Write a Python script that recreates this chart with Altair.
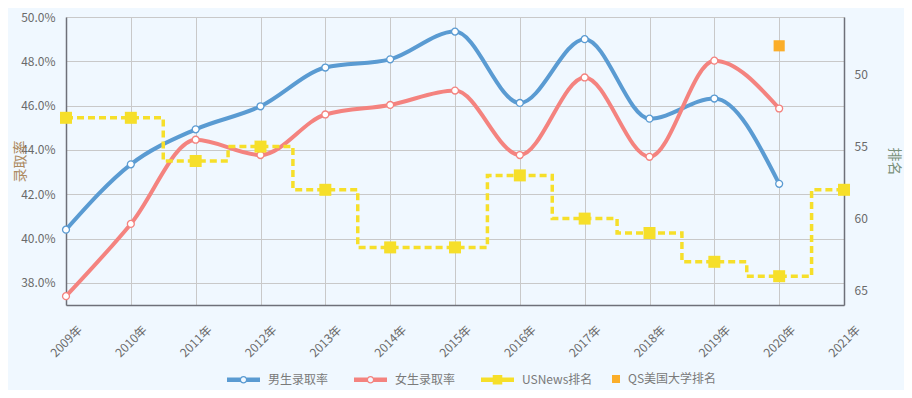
import altair as alt
import pandas as pd

# ---- data ----
rate_years = [2009, 2010, 2011, 2012, 2013, 2014, 2015, 2016, 2017, 2018, 2019, 2020]
male_rate = [40.4, 43.35, 44.93, 45.97, 47.72, 48.09, 49.34, 46.12, 49.0, 45.41, 46.32, 42.47]
female_rate = [37.4, 40.66, 44.46, 43.77, 45.6, 46.03, 46.68, 43.77, 47.27, 43.69, 48.03, 45.87]
rank_years = [2009, 2010, 2011, 2012, 2013, 2014, 2015, 2016, 2017, 2018, 2019, 2020, 2021]
usnews_rank = [53, 53, 56, 55, 58, 62, 62, 57, 60, 61, 63, 64, 58]
qs_years = [2020]
qs_rank = [48]
series_names = ["男生录取率", "女生录取率", "USNews排名"]
qs_name = "QS美国大学排名"
x_ticks = list(range(2009, 2022))
left_ticks = [38, 40, 42, 44, 46, 48, 50]
right_ticks = [50, 55, 60, 65]

BLUE = "#5a9bd2"
PINK = "#f4837f"
YELLOW = "#f6df2a"
ORANGE = "#fbae2a"
FONT = "Noto Sans CJK SC"
LABEL_COLOR = "#6a6a6a"
BG = "#f0f8ff"

PLOT_H = 288

male_df = pd.DataFrame({"year": rate_years, "value": male_rate})
female_df = pd.DataFrame({"year": rate_years, "value": female_rate})
us_df = pd.DataFrame({"year": rank_years, "rank": usnews_rank})
qs_df = pd.DataFrame({"year": qs_years, "rank": qs_rank, "series": [qs_name] * len(qs_years)})
legend_df = pd.DataFrame({"series": series_names})

x_axis = alt.Axis(
    values=x_ticks, labelExpr="datum.value + '年'", labelAngle=-45, labelAlign="center",
    labelBaseline="middle", labelPadding=36, ticks=False, grid=True, gridColor="#c9c9c9",
    gridWidth=1, domainColor="#6e7079", domainWidth=1.5, labelFontSize=12,
    labelColor=LABEL_COLOR, labelFont=FONT, title=None,
)
x_enc = alt.X("year:Q", scale=alt.Scale(domain=[2009, 2021], nice=False, zero=False), axis=x_axis)

left_axis = alt.Axis(
    values=left_ticks, labelExpr="format(datum.value, '.1f') + '%'", ticks=False,
    labelPadding=11, grid=True, gridColor="#c9c9c9", gridWidth=1, domainColor="#6e7079",
    domainWidth=1.5, labelFontSize=12, labelColor=LABEL_COLOR, labelFont=FONT,
    title="录取率", titleFont=FONT, titleFontSize=14, titleFontWeight="normal",
    titleColor="#ad8a5f", titleX=-46, titleY=PLOT_H / 2, titleAngle=-90, titleAlign="center",
    titleBaseline="middle",
)
left_scale = alt.Scale(domain=[37, 50], nice=False, zero=False)

right_axis = alt.Axis(
    values=right_ticks, ticks=False, labelPadding=10, grid=False, domainColor="#6e7079",
    domainWidth=1.5, labelFontSize=12, labelColor=LABEL_COLOR, labelFont=FONT, orient="right",
    title="排名", titleFont=FONT, titleFontSize=14, titleFontWeight="normal",
    titleColor="#7a907a", titleX=49, titleY=PLOT_H / 2, titleAngle=90, titleAlign="center",
    titleBaseline="middle",
)
right_scale = alt.Scale(domain=[46, 66], reverse=True, nice=False, zero=False)


def rate_layers(df, color):
    y = alt.Y("value:Q", scale=left_scale, axis=left_axis)
    line = alt.Chart(df).mark_line(color=color, strokeWidth=4, interpolate="monotone").encode(x=x_enc, y=y)
    pts = alt.Chart(df).mark_point(
        filled=True, fill="white", stroke=color, strokeWidth=1.3, size=48, opacity=1
    ).encode(x=x_enc, y=y)
    return [line, pts]


left_group = alt.layer(*rate_layers(male_df, BLUE), *rate_layers(female_df, PINK))

y_rank = alt.Y("rank:Q", scale=right_scale, axis=right_axis)
us_line = alt.Chart(us_df).mark_line(
    color=YELLOW, strokeWidth=3.5, strokeDash=[7, 4], interpolate="step"
).encode(x=x_enc, y=y_rank)
us_pts = alt.Chart(us_df).mark_square(color=YELLOW, size=144, opacity=1).encode(x=x_enc, y=y_rank)
qs_pts = alt.Chart(qs_df).mark_square(size=124, opacity=1).encode(
    x=x_enc, y=y_rank,
    fill=alt.Fill(
        "series:N", scale=alt.Scale(domain=[qs_name], range=[ORANGE]),
        legend=alt.Legend(
            title=None, orient="none", legendX=544, legendY=PLOT_H + 68, direction="horizontal",
            symbolType="square", symbolSize=64, symbolStrokeWidth=0, labelOffset=6,
            labelFontSize=12, labelColor="#7a7a7a", labelFont=FONT, padding=0,
        ),
    ),
)
right_group = alt.layer(us_line, us_pts, qs_pts)

line_circle = (
    "M-1,-0.14H-0.2V0.14H-1Z M0.2,-0.14H1V0.14H0.2Z "
    "M0.23,0A0.23,0.23,0,1,1,-0.23,0A0.23,0.23,0,1,1,0.23,0Z "
    "M0.15,0A0.15,0.15,0,1,0,-0.15,0A0.15,0.15,0,1,0,0.15,0Z"
)
line_square = "M-1,-0.13H1V0.13H-1Z M-0.29,-0.29H0.29V0.29H-0.29Z"

main_legend = alt.Legend(
    title=None, orient="none", legendX=161, legendY=PLOT_H + 58, direction="horizontal", columns=3,
    symbolSize=1089, symbolStrokeWidth=0, symbolOpacity=1, labelOffset=8, columnPadding=25,
    labelFontSize=12, labelColor="#7a7a7a", labelFont=FONT, padding=0,
)
legend_layer = alt.Chart(legend_df).mark_point(filled=True, opacity=0).encode(
    x=alt.value(0), y=alt.value(0),
    color=alt.Color("series:N", scale=alt.Scale(domain=series_names, range=[BLUE, PINK, YELLOW]),
                    legend=main_legend),
    shape=alt.Shape("series:N", scale=alt.Scale(domain=series_names,
                                               range=[line_circle, line_circle, line_square]),
                    legend=main_legend),
)

chart = (
    alt.layer(left_group, right_group, legend_layer)
    .resolve_scale(y="independent")
    .properties(
        width=778, height=PLOT_H,
        autosize=alt.AutoSizeParams(type="none"),
        padding={"left": 58, "top": 9, "right": 60, "bottom": 85},
        background=BG,
    )
    .configure_view(strokeWidth=0, fill=BG)
)

chart.save("out.html", embed_options={"renderer": "svg", "actions": False})
